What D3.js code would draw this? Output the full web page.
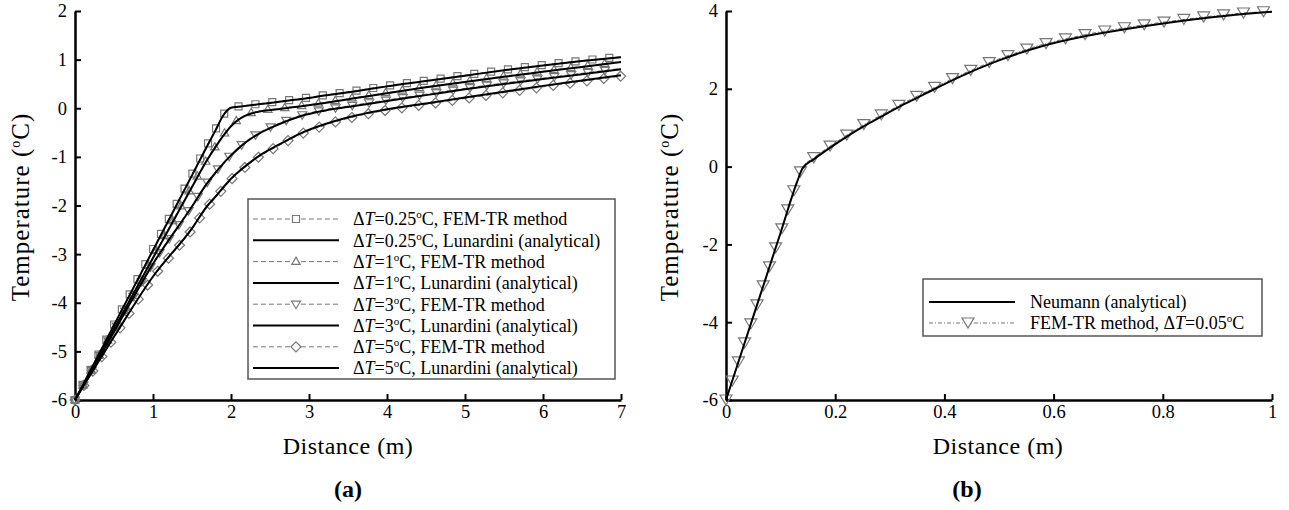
<!DOCTYPE html>
<meta charset="utf-8">
<style>
body { margin: 0; background: #fff; }
svg text { font-family: "Liberation Serif", "Times New Roman", serif; fill: #000; }
.axis text { font-size: 18.5px; }
.axis path { stroke: #000; stroke-width: 2.5; }
.axis line { stroke: #000; stroke-width: 2; }
</style>
<body>
<script src="https://d3js.org/d3.v7.min.js"></script>
<script>

// ---- panel (a): Lunardini vs FEM-TR, distance grid in m
var distA   = [0, 0.5, 1, 1.5, 1.7, 1.8, 1.9, 2, 2.1, 2.2, 2.35, 2.6, 2.9, 3.2, 3.6, 4, 4.5, 5, 5.5, 6, 6.5, 7];
var lun025  = [-6, -4.46, -2.92, -1.38, -0.76, -0.46, -0.15, 0.01, 0.03, 0.05, 0.08, 0.13, 0.19, 0.26, 0.35, 0.45, 0.56, 0.67, 0.78, 0.88, 0.97, 1.05];
var lun1    = [-6, -4.54, -3.08, -1.62, -1.05, -0.8, -0.57, -0.37, -0.23, -0.14, -0.07, -0.02, 0.04, 0.11, 0.21, 0.31, 0.43, 0.54, 0.65, 0.75, 0.85, 0.95];
var lun3    = [-6, -4.6, -3.2, -2.02, -1.53, -1.33, -1.14, -0.97, -0.82, -0.69, -0.53, -0.34, -0.16, -0.05, 0.05, 0.15, 0.27, 0.39, 0.5, 0.6, 0.7, 0.8];
var lun5    = [-6, -4.7, -3.46, -2.47, -2.0, -1.82, -1.63, -1.45, -1.3, -1.17, -0.99, -0.76, -0.51, -0.33, -0.15, -0.02, 0.1, 0.22, 0.34, 0.46, 0.57, 0.68];
var fem025  = [-6, -4.45, -2.9, -1.36, -0.74, -0.44, -0.14, 0.02, 0.04, 0.06, 0.09, 0.14, 0.2, 0.27, 0.36, 0.46, 0.57, 0.68, 0.79, 0.89, 0.98, 1.06];
var fem1    = [-6, -4.53, -3.06, -1.6, -1.03, -0.78, -0.55, -0.36, -0.22, -0.13, -0.06, -0.01, 0.05, 0.12, 0.22, 0.32, 0.44, 0.55, 0.66, 0.76, 0.86, 0.96];
var fem3    = [-6, -4.58, -3.18, -2.0, -1.51, -1.31, -1.12, -0.95, -0.8, -0.67, -0.51, -0.32, -0.14, -0.03, 0.07, 0.17, 0.29, 0.41, 0.52, 0.62, 0.72, 0.82];
var fem5    = [-6, -4.71, -3.48, -2.49, -2.02, -1.84, -1.65, -1.47, -1.32, -1.19, -1.01, -0.78, -0.53, -0.35, -0.17, -0.04, 0.08, 0.2, 0.32, 0.44, 0.55, 0.66];
var dTa     = ["0.25", "1", "3", "5"];
var ticksAx = [0, 1, 2, 3, 4, 5, 6, 7];
var ticksAy = [-6, -5, -4, -3, -2, -1, 0, 1, 2];

// ---- panel (b): Neumann vs FEM-TR
var distB   = [0, 0.05, 0.1, 0.13, 0.14, 0.16, 0.19, 0.23, 0.26, 0.29, 0.33, 0.36, 0.43, 0.5, 0.58, 0.65, 0.73, 0.81, 0.89, 0.97, 1];
var neumann = [-6, -3.85, -1.7, -0.4, -0.05, 0.18, 0.48, 0.85, 1.1, 1.33, 1.63, 1.84, 2.32, 2.73, 3.1, 3.33, 3.53, 3.7, 3.84, 3.95, 3.98];
var femB    = [-6, -3.85, -1.7, -0.39, -0.02, 0.22, 0.52, 0.89, 1.14, 1.37, 1.67, 1.88, 2.36, 2.77, 3.14, 3.37, 3.57, 3.73, 3.87, 3.97, 3.99];
var ticksBx = [0, 0.2, 0.4, 0.6, 0.8, 1];
var ticksBy = [-6, -4, -2, 0, 2, 4];

// marker shapes (centred on 0,0)
var shapes = {
  square:  "M-3.5,-3.5h7v7h-7Z",
  triUp:   "M0,-4.5L4.2,2.8L-4.2,2.8Z",
  triDown: "M-4.5,-3L4.5,-3L0,4.5Z",
  diamond: "M0,-5L5,0L0,5L-5,0Z",
  triBig:  "M-6,-5L6,-5L0,5Z"
};

var svg = d3.select("body").append("svg")
    .attr("width", 1289)
    .attr("height", 510);

var xA = d3.scaleLinear().domain([0, 7]).range([75, 621]);
var yA = d3.scaleLinear().domain([-6, 2]).range([400, 11]);
var xB = d3.scaleLinear().domain([0, 1]).range([726, 1272]);
var yB = d3.scaleLinear().domain([-6, 4]).range([400, 11]);

function pairs(xs, ys) { return xs.map(function(d, i) { return [d, ys[i]]; }); }

function axes(x, y, xt, yt) {
  svg.append("g").attr("class", "axis")
      .attr("transform", "translate(0," + y.range()[0] + ")")
      .call(d3.axisBottom(x).tickValues(xt).tickSizeInner(-6).tickSizeOuter(0).tickPadding(5).tickFormat(String));
  svg.append("g").attr("class", "axis")
      .attr("transform", "translate(" + x.range()[0] + ",0)")
      .call(d3.axisLeft(y).tickValues(yt).tickSizeInner(-6).tickSizeOuter(0).tickPadding(8).tickFormat(String));
}

// tecplot style: symbols every `gap` px along the drawn line
function symbolsAlong(path, gap, shape) {
  var node = path.node(), len = node.getTotalLength(), pts = [];
  for (var s = 0; s <= len; s += gap) pts.push(node.getPointAtLength(s));
  svg.append("g").selectAll("path").data(pts).join("path")
      .attr("d", shape)
      .attr("transform", function(p) { return "translate(" + p.x + "," + p.y + ")"; })
      .attr("fill", "none").attr("stroke", "#777").attr("stroke-width", 1.2);
}

function series(x, y, xs, ys, dash, color, width) {
  var line = d3.line().x(function(d) { return x(d[0]); }).y(function(d) { return y(d[1]); }).curve(d3.curveMonotoneX);
  return svg.append("path").datum(pairs(xs, ys))
      .attr("d", line).attr("fill", "none")
      .attr("stroke", color).attr("stroke-width", width)
      .attr("stroke-dasharray", dash);
}

// "ΔT=..°C" text with italic T and raised o
function deltaText(t, value, before, after) {
  if (before) t.append("tspan").text(before);
  t.append("tspan").text("\u0394");
  t.append("tspan").attr("font-style", "italic").text("T");
  t.append("tspan").text("=" + value);
  t.append("tspan").attr("dy", -7).attr("font-size", "11px").text("o");
  t.append("tspan").attr("dy", 7).text("C" + (after || ""));
}

// ---------- panel (a)
axes(xA, yA, ticksAx, ticksAy);
var femA = [fem025, fem1, fem3, fem5], lunA = [lun025, lun1, lun3, lun5];
var shapeA = [shapes.square, shapes.triUp, shapes.triDown, shapes.diamond];
femA.forEach(function(s, i) {
  var p = series(xA, yA, distA, s, "5,3", "#777", 1);
  symbolsAlong(p, 17, shapeA[i]);
});
lunA.forEach(function(s) { series(xA, yA, distA, s, null, "#000", 2); });

// ---------- panel (b)
axes(xB, yB, ticksBx, ticksBy);
var pb = series(xB, yB, distB, femB, "4,2,1,2", "#777", 1);
symbolsAlong(pb, 20, shapes.triBig);
series(xB, yB, distB, neumann, null, "#000", 2);

// ---------- axis titles
["translate(29,207) rotate(-90)", "translate(678,207) rotate(-90)"].forEach(function(tr) {
  var t = svg.append("text").attr("transform", tr).attr("text-anchor", "middle")
      .attr("font-size", "25px").attr("letter-spacing", "1px");
  t.append("tspan").text("Temperature (");
  t.append("tspan").attr("dy", -9).attr("font-size", "14px").text("o");
  t.append("tspan").attr("dy", 9).text("C)");
});
svg.append("text").attr("x", 348).attr("y", 454).attr("text-anchor", "middle").attr("font-size", "24px")
    .attr("letter-spacing", "0.5px").text("Distance (m)");
svg.append("text").attr("x", 998).attr("y", 454).attr("text-anchor", "middle").attr("font-size", "24px")
    .attr("letter-spacing", "0.5px").text("Distance (m)");
svg.append("text").attr("x", 348).attr("y", 497).attr("text-anchor", "middle").attr("font-size", "24px").attr("font-weight", "bold").text("(a)");
svg.append("text").attr("x", 967).attr("y", 497).attr("text-anchor", "middle").attr("font-size", "24px").attr("font-weight", "bold").text("(b)");

// ---------- legend (a)
svg.append("rect").attr("x", 248).attr("y", 199).attr("width", 367).attr("height", 180)
    .attr("fill", "#fff").attr("stroke", "#555").attr("stroke-width", 1.5);
dTa.forEach(function(dt, i) {
  [0, 1].forEach(function(k) {
    var yy = 219 + (i * 2 + k) * 21.3;
    svg.append("line").attr("x1", 253).attr("x2", 339).attr("y1", yy).attr("y2", yy)
        .attr("stroke", k ? "#000" : "#777").attr("stroke-width", k ? 2 : 1)
        .attr("stroke-dasharray", k ? null : "5,3");
    if (!k) svg.append("path").attr("d", shapeA[i]).attr("transform", "translate(296," + yy + ")")
        .attr("fill", "#fff").attr("stroke", "#777").attr("stroke-width", 1.2);
    var t = svg.append("text").attr("x", 353).attr("y", yy).attr("dy", "0.35em").attr("font-size", "18px");
    deltaText(t, dt, null, k ? ", Lunardini (analytical)" : ", FEM-TR method");
  });
});

// ---------- legend (b)
svg.append("rect").attr("x", 923).attr("y", 279).attr("width", 339).attr("height", 57)
    .attr("fill", "#fff").attr("stroke", "#555").attr("stroke-width", 1.5);
svg.append("line").attr("x1", 929).attr("x2", 1015).attr("y1", 302).attr("y2", 302)
    .attr("stroke", "#000").attr("stroke-width", 2);
svg.append("text").attr("x", 1030).attr("y", 302).attr("dy", "0.35em").attr("font-size", "18px").text("Neumann (analytical)");
svg.append("line").attr("x1", 929).attr("x2", 1015).attr("y1", 323).attr("y2", 323)
    .attr("stroke", "#777").attr("stroke-width", 1).attr("stroke-dasharray", "4,2,1,2");
svg.append("path").attr("d", shapes.triBig).attr("transform", "translate(968,323)")
    .attr("fill", "#fff").attr("stroke", "#777").attr("stroke-width", 1.2);
deltaText(svg.append("text").attr("x", 1030).attr("y", 323).attr("dy", "0.35em").attr("font-size", "18px"),
    "0.05", "FEM-TR method, ", null);

</script>
